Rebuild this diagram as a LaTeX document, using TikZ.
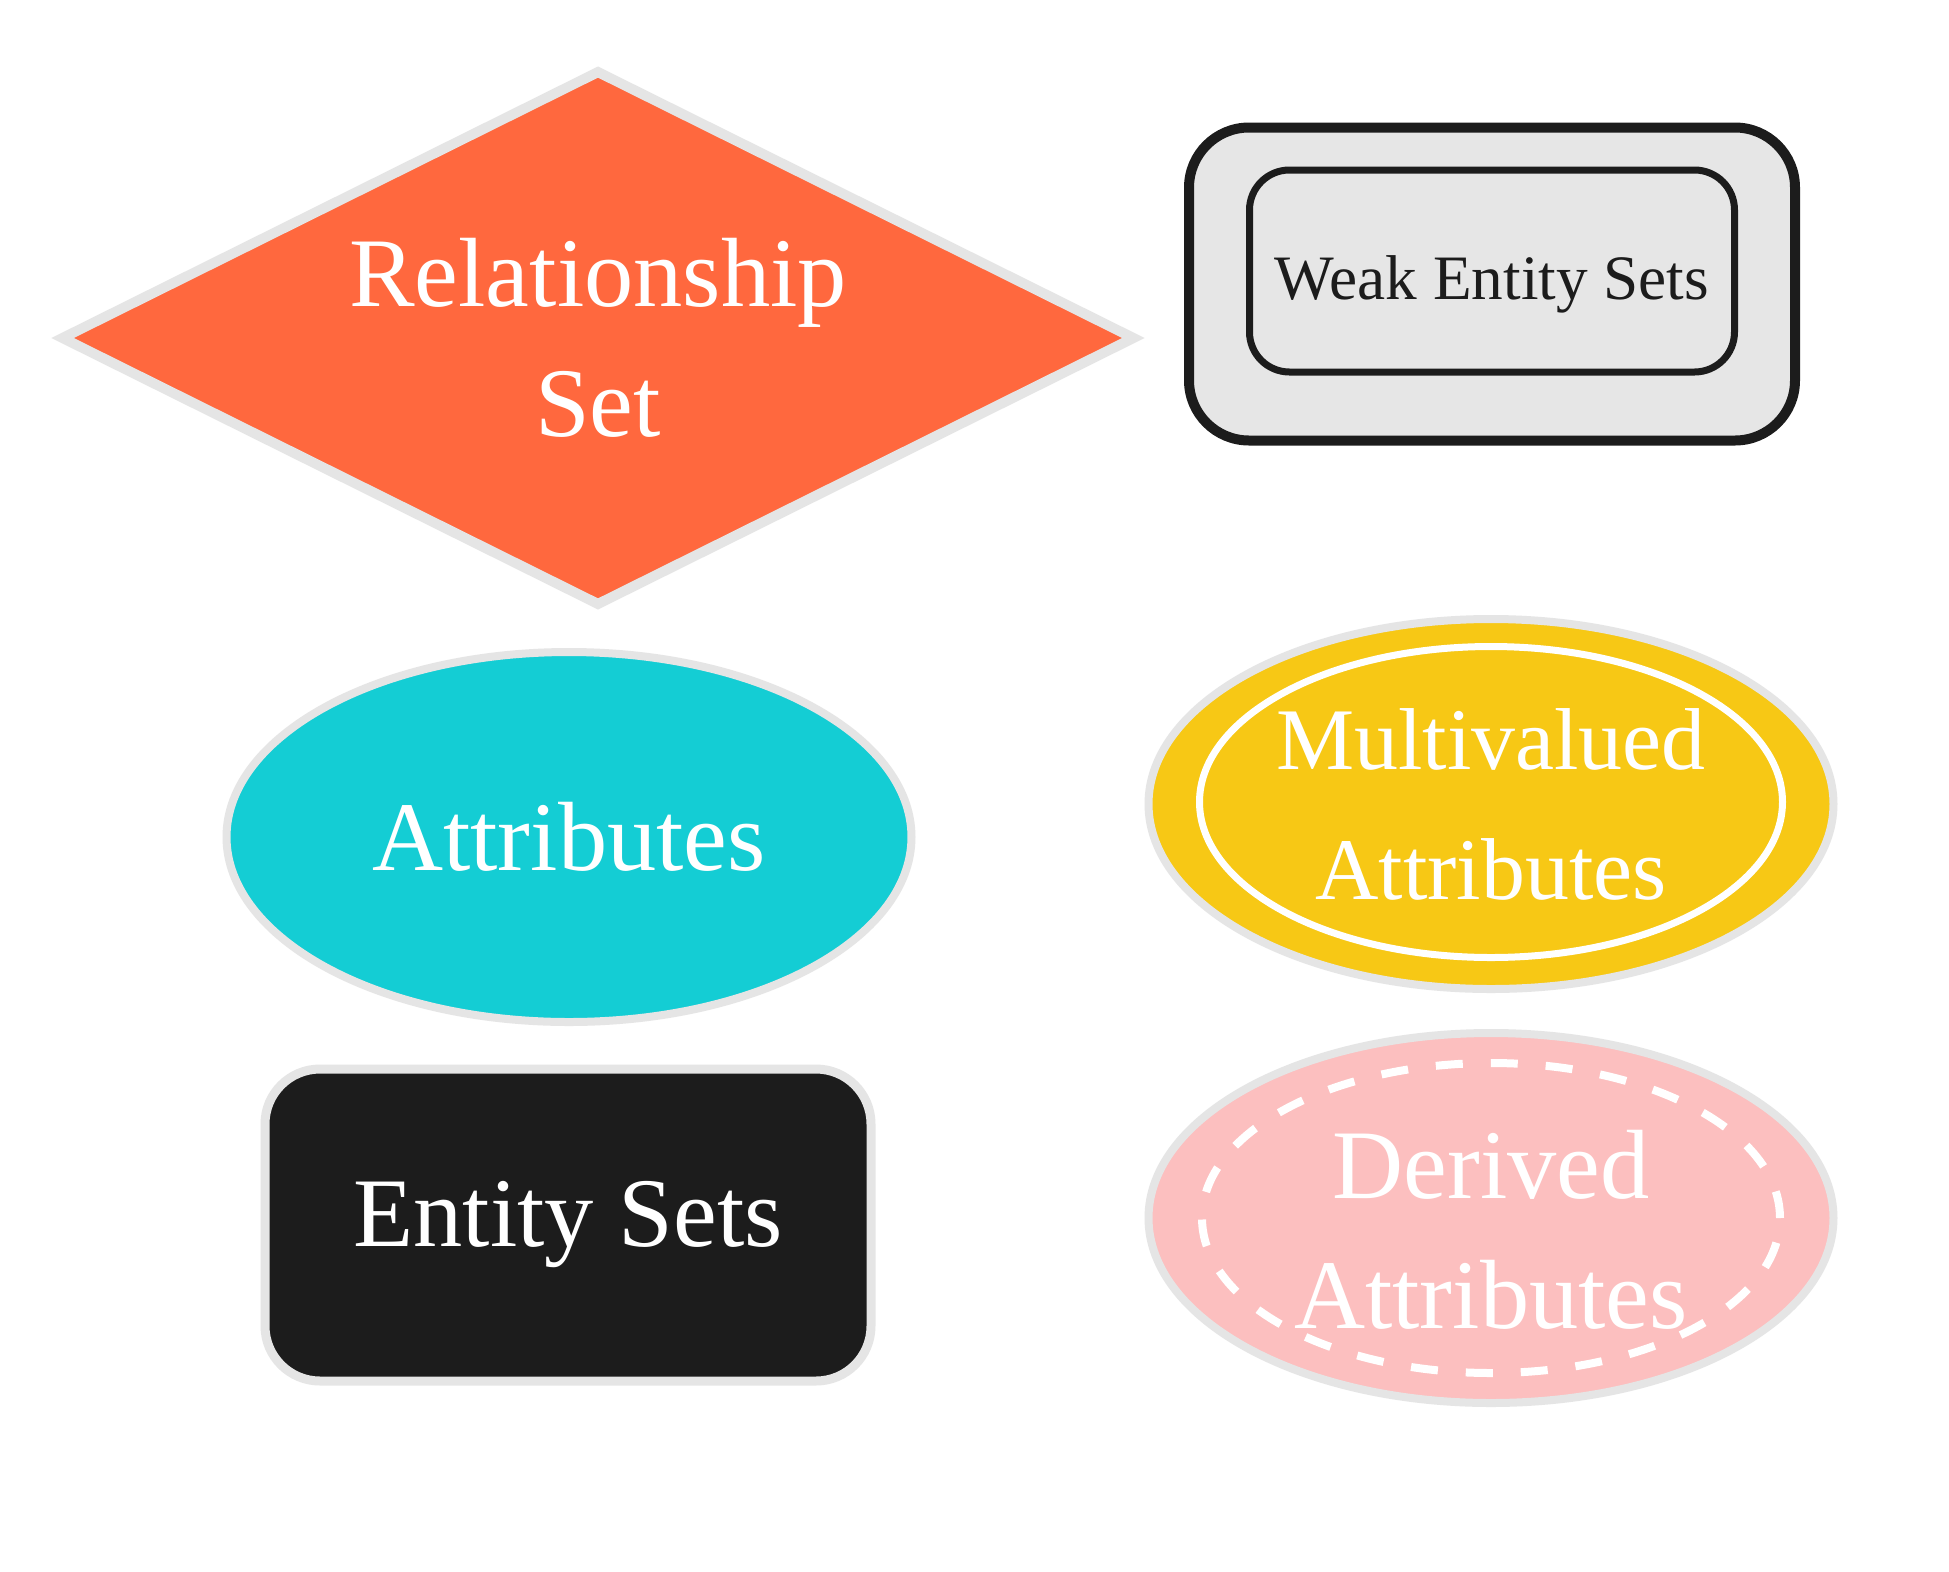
\documentclass[tikz,border=0pt]{standalone}
\usepackage{fontspec}
\setmainfont{Liberation Serif}
\usetikzlibrary{shapes.geometric}
\definecolor{coral}{RGB}{255,104,62}
\definecolor{rim}{RGB}{229,229,229}
\definecolor{turq}{RGB}{20,205,212}
\definecolor{mustard}{RGB}{247,200,21}
\definecolor{blush}{RGB}{252,191,191}
\definecolor{coal}{RGB}{28,28,28}
\definecolor{mist}{RGB}{230,230,230}
\tikzset{
  big text/.style={text=white,align=center,font=\fontsize{28}{37}\selectfont},
  rel/.style={diamond,aspect=2,draw=rim,line width=1mm,fill=#1,inner sep=0pt,
    minimum width=107.5mm,minimum height=53.6mm,big text},
  rel/.default=coral,
  attr/.style={ellipse,draw=rim,line width=0.8mm,fill=#1,inner sep=0pt,
    minimum width=68.5mm,minimum height=37mm,big text},
  attr/.default=turq,
  ring/.style={ellipse,draw=white,line width=0.7mm,inner sep=0pt,
    minimum width=58.3mm,minimum height=31.1mm},
  entity/.style={rectangle,rounded corners=5.5mm,draw=#1,line width=0.9mm,fill=coal,
    minimum width=60.6mm,minimum height=31.2mm,inner sep=0pt,big text},
  entity/.default=rim,
  weak/.style={rectangle,rounded corners=6mm,draw=coal,line width=1mm,fill=mist,
    minimum width=60.6mm,minimum height=31.3mm,inner sep=0pt,
    font=\fontsize{18}{22}\selectfont,text=coal},
  weak inner/.style={rectangle,rounded corners=4mm,draw=coal,line width=0.7mm,
    minimum width=48.5mm,minimum height=20.2mm,inner sep=0pt},
}

\begin{document}
\begin{tikzpicture}[x=0.1mm,y=-0.1mm]
  \useasboundingbox[fill=white] (0,0) rectangle (1949,1571);
  % left column
  \node[rel] (relset) at (598,338) {Relationship\\Set};
  \node[attr] (attr) at (569,837) {Attributes};
  \node[entity] (ent) at (568,1225) {Entity Sets};
  % right column
  \node[weak] (weakset) at (1492,284) {\raisebox{-1.5mm}{Weak Entity Sets}};
  \node[weak inner] (weakin) at ([yshift=1.3mm]weakset.center) {};
  \node[attr=mustard,font=\fontsize{25}{37}\selectfont] (multi) at (1491,804) {Multivalued\\Attributes};
  \node[ring] (multiring) at ([yshift=0.2mm]multi.center) {};
  \node[attr=blush,text=white] (derived) at (1491,1218) {};
  \node[big text] (derivedtxt) at ([yshift=-1.2mm]derived.center) {Derived\\Attributes};
  \node[ring,line width=0.8mm,dash pattern=on 2.7mm off 2.8mm,minimum width=57.8mm,minimum height=31mm]
    (derivedring) at (derived.center) {};
\end{tikzpicture}
\end{document}
